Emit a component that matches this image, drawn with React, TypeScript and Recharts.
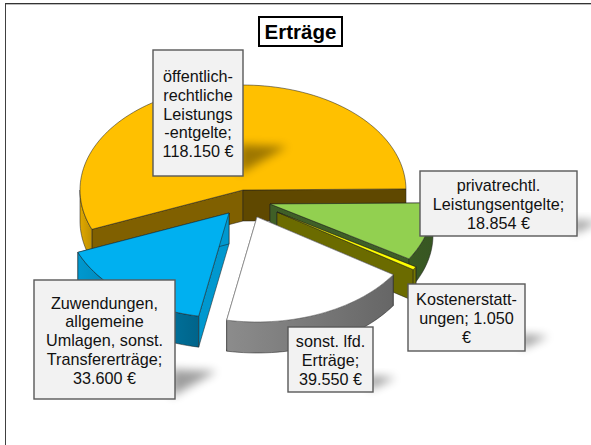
import React from 'react';
import { PieChart, Pie, Cell } from 'recharts';

const names = ['öffentlich-rechtliche Leistungsentgelte', 'privatrechtl. Leistungsentgelte', 'Kostenerstattungen', 'sonst. lfd. Erträge', 'Zuwendungen, allgemeine Umlagen, sonst. Transfererträge'];
const values = [118150, 18854, 1050, 39550, 33600];
const labelLines = [
  ['öffentlich-', 'rechtliche', 'Leistungs', '-entgelte;', '118.150 €'],
  ['privatrechtl.', 'Leistungsentgelte;', '18.854 €'],
  ['Kostenerstatt-', 'ungen; 1.050', '€'],
  ['sonst. lfd.', 'Erträge;', '39.550 €'],
  ['Zuwendungen,', 'allgemeine', 'Umlagen, sonst.', 'Transfererträge;', '33.600 €'],
];
const data = names.map((name, i) => ({ name, value: values[i], i }));

const WIDTH = 591;
const HEIGHT = 445;
const CX = 243;
const CY = 190;
const RADIUS = 163;
const TILT = 0.644;
const DEPTH = 31;
const FIRST_ANGLE = 202;
const FONT = '"Liberation Sans", Arial, sans-serif';

const explode = [[0, 0], [27, 14], [34, 22], [14, 27], [-14, 23]];
const skins = [
  { top: '#FFC000', cutA: '#5F4800', cutB: '#806000', rimA: '#E0A800', rimB: '#BF9000' },
  { top: '#92D050', cutA: '#3F5F27', cutB: '#3F5F27', rimA: '#3A5A22', rimB: '#375623' },
  { top: '#FFFF00', cutA: '#6B6B00', cutB: '#7F7F00', rimA: '#7F7F00', rimB: '#6B6B00' },
  { top: '#FFFFFF', cutA: '#BFBFBF', cutB: '#BFBFBF', rimA: '#8C8C8C', rimB: '#666666' },
  { top: '#00B0F0', cutA: '#0098CF', cutB: '#0098CF', rimA: '#0098CF', rimB: '#00648A' },
];
const boxes = [
  { x: 153, y: 50, w: 90, h: 126 },
  { x: 420, y: 171, w: 157, h: 65 },
  { x: 408, y: 284, w: 117, h: 67 },
  { x: 288, y: 327, w: 85, h: 65 },
  { x: 34, y: 280, w: 141, h: 119 },
];

const EDGE = 'rgba(30,30,30,0.75)';

function SliceShape(props: any) {
  const { cx, cy, outerRadius, startAngle, endAngle, payload } = props;
  const idx = payload.i ?? props.i;
  const [dx, dy] = explode[idx];
  const skin = skins[idx];
  const ox = cx + dx;
  const oy = cy + dy;
  const lo = Math.min(startAngle, endAngle);
  const hi = Math.max(startAngle, endAngle);
  const pt = (deg: number, down = 0): [number, number] => {
    const a = (deg * Math.PI) / 180;
    return [ox + outerRadius * Math.cos(a), oy - outerRadius * TILT * Math.sin(a) + down];
  };
  const arc = (from: number, to: number, down = 0) => {
    const steps = Math.max(2, Math.ceil(Math.abs(to - from) / 2));
    const out: string[] = [];
    for (let s = 0; s <= steps; s += 1) {
      const p = pt(from + ((to - from) * s) / steps, down);
      out.push(`${p[0].toFixed(2)},${p[1].toFixed(2)}`);
    }
    return out;
  };
  const topPath = `M${ox},${oy} L${arc(lo, hi).join(' L')} Z`;
  const cut = (deg: number) => {
    const p = pt(deg);
    return `M${ox},${oy} L${p[0]},${p[1]} L${p[0]},${p[1] + DEPTH} L${ox},${oy + DEPTH} Z`;
  };
  // the part of the rim that faces the viewer is where sine is negative
  const rims: [number, number][] = [];
  for (let k = -2; k <= 1; k += 1) {
    const a = Math.max(lo, 180 + 360 * k);
    const b = Math.min(hi, 360 + 360 * k);
    if (b > a) rims.push([a, b]);
  }
  const gid = `rim-${idx}`;
  return (
    <g>
      <defs>
        <linearGradient id={gid} gradientUnits="objectBoundingBox" x1="0" y1="0" x2="1" y2="0">
          <stop offset="0%" stopColor={skin.rimA} />
          <stop offset="100%" stopColor={skin.rimB} />
        </linearGradient>
      </defs>
      <path d={cut(hi)} fill={skin.cutB} stroke={EDGE} strokeWidth={0.7} />
      <path d={cut(lo)} fill={skin.cutA} stroke={EDGE} strokeWidth={0.7} />
      {rims.map(([a, b]) => (
        <path
          key={a}
          d={`M${arc(a, b).join(' L')} L${arc(b, a, DEPTH).join(' L')} Z`}
          fill={`url(#${gid})`}
          stroke={EDGE}
          strokeWidth={0.7}
        />
      ))}
      <path d={topPath} fill={skin.top} stroke={idx === 3 ? '#7F7F7F' : EDGE} strokeWidth={0.7} />
    </g>
  );
}

function LabelBox(props: any) {
  const idx = props.index;
  const box = boxes[idx];
  const lines = labelLines[idx];
  const LINE = 18.75;
  const mid = box.y + box.h / 2;
  const first = mid - ((lines.length - 1) * LINE) / 2 + 6.5;
  const sw = box.h * 0.35;
  const sh = box.h * 0.25;
  const right = box.x + box.w;
  const bottom = box.y + box.h;
  return (
    <g>
      <path
        d={`M${right - 4},${bottom - sh} L${right + sw},${bottom - sh + 2} L${right - 4},${bottom - 2} Z`}
        fill="#000"
        opacity={0.38}
        filter="url(#labelShadow)"
      />
      <rect x={box.x} y={box.y} width={box.w} height={box.h} fill="#F2F2F2" stroke="#595959" strokeWidth={1.4} />
      {lines.map((line, n) => (
        <text
          key={line}
          x={box.x + box.w / 2}
          y={first + n * LINE}
          textAnchor="middle"
          fontFamily={FONT}
          fontSize={16.2}
          fill="#111"
        >
          {line}
        </text>
      ))}
    </g>
  );
}

export default function App() {
  return (
    <div style={{ position: 'absolute', left: 0, top: 0, width: WIDTH, height: HEIGHT, background: '#fff', overflow: 'hidden' }}>
      <div
        style={{
          position: 'absolute',
          left: 5,
          top: 3,
          width: 586,
          height: 442,
          borderLeft: '1.5px solid #404040',
          borderTop: '1px solid #333333',
          boxShadow: 'inset 0 1px 0 #BBBBBB',
          boxSizing: 'border-box',
        }}
      />
      <div style={{ position: 'absolute', left: 0, top: 0 }}>
        <PieChart width={WIDTH} height={HEIGHT} margin={{ top: 0, right: 0, bottom: 0, left: 0 }}>
          <defs>
            <filter id="labelShadow" x="-50%" y="-50%" width="200%" height="200%">
              <feGaussianBlur stdDeviation="5" />
            </filter>
          </defs>
          <Pie
            data={data}
            dataKey="value"
            nameKey="name"
            cx={CX}
            cy={CY}
            innerRadius={0}
            outerRadius={RADIUS}
            startAngle={FIRST_ANGLE}
            endAngle={FIRST_ANGLE - 360}
            isAnimationActive={false}
            stroke="none"
            shape={SliceShape}
            label={LabelBox}
            labelLine={false}
          >
            {data.map((d) => (
              <Cell key={d.name} fill={skins[d.i].top} />
            ))}
          </Pie>
        </PieChart>
      </div>
      <div
        style={{
          position: 'absolute',
          left: 258,
          top: 16,
          width: 85,
          height: 31,
          boxSizing: 'border-box',
          border: '2px solid #000',
          background: '#fff',
          fontFamily: FONT,
          fontWeight: 700,
          fontSize: 20.5,
          lineHeight: '27px',
          textAlign: 'center',
          color: '#000',
        }}
      >
        Erträge
      </div>
    </div>
  );
}
